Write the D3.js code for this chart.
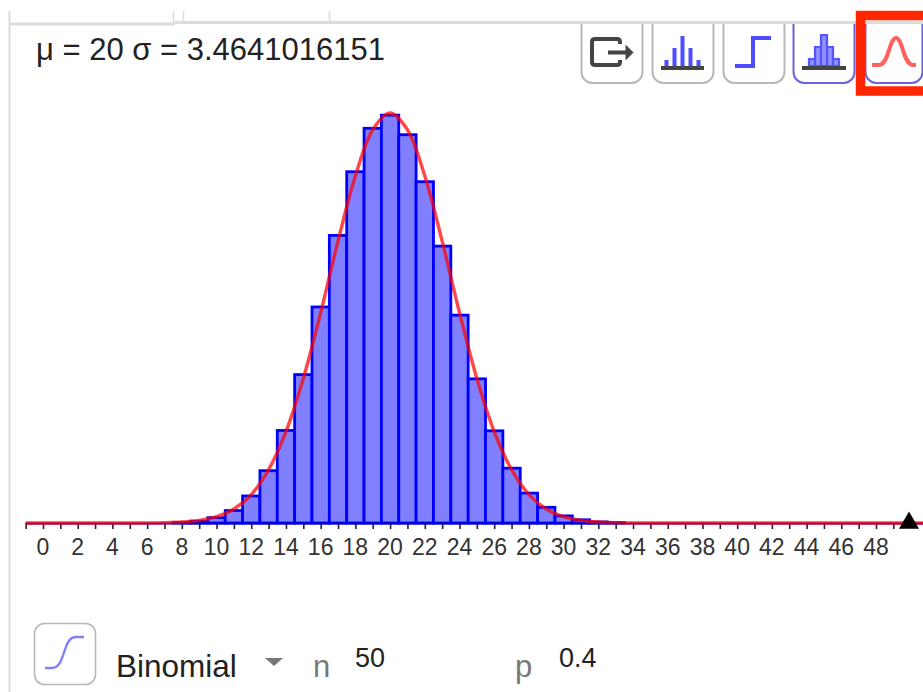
<!DOCTYPE html>
<html><head><meta charset="utf-8">
<style>html,body{margin:0;padding:0;background:#fff}svg{display:block;font-family:"Liberation Sans",Arial,sans-serif}</style>
<script src="https://cdn.jsdelivr.net/npm/d3@7"></script></head><body>
<svg id="c" width="923" height="692"></svg>
<script>
const categories=d3.range(0,50);
const barValues=[0,0,0,0,0,0,0,0,0.0001,0.0005,0.0015,0.0035,0.0076,0.0147,0.026,0.0417,0.0607,0.0808,0.0987,0.1109,0.1146,0.1091,0.0959,0.0778,0.0584,0.0405,0.0259,0.0154,0.0084,0.0044,0.002,0.0009,0.0003,0.0001,0,0,0,0,0,0,0,0,0,0,0,0,0,0,0,0];
const curveX=[-1,2,4,5,6,7,8,9,10,11,12,13,14,15,16,17,18,19,20,21,22,23,24,25,26,27,28,29,30,31,32,33,34,35,36,50,52];
const curveY=[0,0,0,0.00001,0.00003,0.0001,0.00029,0.00075,0.00178,0.00394,0.008,0.015,0.0257,0.0406,0.0591,0.0792,0.0975,0.1105,0.1152,0.1105,0.0975,0.0792,0.0591,0.0406,0.0257,0.015,0.008,0.00394,0.00178,0.00075,0.00029,0.0001,0.00003,0.00001,0,0,0];
const tickValues=d3.range(-1,50);
const labelValues=d3.range(0,50,2);
const statText="μ = 20 σ = 3.4641016151";
const distName="Binomial", nValue="50", pValue="0.4";

const svg=d3.select("#c");
const x=d3.scaleLinear().domain([0,48]).range([43,876]);
const y=d3.scaleLinear().domain([0,0.1152]).range([523,113]);
const uw=x(1)-x(0);
const grey="#dcdcdc";

// app frame
svg.append("path").attr("d","M9.5 11V692").attr("stroke",grey).attr("stroke-width",2).attr("fill","none");
svg.append("path").attr("d","M10 24H175M175 22.5H923").attr("stroke",grey).attr("stroke-width",3).attr("fill","none");
svg.append("path").attr("d","M173.5 11V22M183.5 11V21M329.5 11V21").attr("stroke",grey).attr("stroke-width",1.6).attr("fill","none");

svg.append("text").attr("x",36).attr("y",60).attr("font-size",31).attr("fill","#222").text(statText);

// bars
svg.append("g").selectAll("rect").data(categories.filter(d=>barValues[d]>0)).join("rect")
 .attr("x",d=>x(d)-uw/2).attr("width",uw).attr("y",d=>y(barValues[d])).attr("height",d=>y(0)-y(barValues[d]))
 .attr("fill","#8080ff").attr("stroke","#0000ff").attr("stroke-width",2.8);

// axis
const axis=d3.axisBottom(x).tickValues(tickValues).tickSize(6).tickFormat("");
const ga=svg.append("g").attr("transform","translate(0,523)").call(axis);
ga.select(".domain").remove();
ga.selectAll("line").attr("stroke","#222").attr("stroke-width",1.6);
svg.append("g").selectAll("text").data(labelValues).join("text").attr("x",d=>x(d)).attr("y",555)
 .attr("text-anchor","middle").attr("font-size",23).attr("fill","#333").text(d=>d);
svg.append("path").attr("d",`M${x(-1)} 523.5H923`).attr("stroke","#0000cc").attr("stroke-width",2);

// normal curve
const line=d3.line().x(d=>x(d)).y((d,i)=>y(curveY[i])).curve(d3.curveCatmullRom);
svg.append("path").attr("d",line(curveX)).attr("fill","none").attr("stroke","#ff0000").attr("stroke-opacity",0.72).attr("stroke-width",3.4);

// black triangle marker
svg.append("path").attr("d",d3.symbol(d3.symbolTriangle,175)()).attr("transform","translate(909,523)").attr("fill","#000");

// toolbar buttons
const buttonX=[581,652,723,793,865], buttonW=[61,61,61,61,57], buttonStroke=["#b8b8b8","#b8b8b8","#b8b8b8","#6a62d8","#6a62d8"];
svg.append("g").selectAll("rect").data(buttonX).join("rect")
 .attr("x",d=>d+.5).attr("y",14).attr("width",(d,i)=>buttonW[i]).attr("height",69).attr("rx",11)
 .attr("fill","#fff").attr("stroke",(d,i)=>buttonStroke[i]).attr("stroke-width",2);
svg.append("rect").attr("x",570).attr("y",0).attr("width",353).attr("height",21).attr("fill","#fff");
svg.append("path").attr("d","M570 22.5H923").attr("stroke",grey).attr("stroke-width",3);

const ic=svg.append("g");
// export icon
ic.append("path").attr("d","M620 44V42Q620 39 617 39H595Q592 39 592 42V62Q592 65 595 65H617Q620 65 620 62V60M608 52.5H628")
 .attr("fill","none").attr("stroke","#444").attr("stroke-width",4);
ic.append("path").attr("d","M626 45.5L633 52.5L626 59.5Z").attr("fill","#444").attr("stroke","#444");
// sticks icon
ic.append("path").attr("d","M661 68H704").attr("stroke","#444").attr("stroke-width",4);
ic.append("path").attr("d","M666.5 66V60M674.5 66V48M682.5 66V36M690.5 66V48M698.5 66V60").attr("stroke","#4d4dff").attr("stroke-width",4).attr("fill","none");
// step icon
ic.append("path").attr("d","M735 66H753V38H771").attr("fill","none").attr("stroke","#4d4dff").attr("stroke-width",4);
// bars icon
ic.append("path").attr("d","M809 66V59H815V47H821V35H827V47H833V59H839V66ZM815 66V47M821 66V35M827 66V47M833 66V59")
 .attr("fill","#8f8fff").attr("stroke","#5555ff").attr("stroke-width",2.2);
ic.append("path").attr("d","M802 68H846").attr("stroke","#444").attr("stroke-width",4);
// curve icon
ic.append("path").attr("d","M872 65H879C889 65 889 38 896 38C903 38 903 65 913 65H916").attr("fill","none").attr("stroke","#ff6060").attr("stroke-width",4);
// red selection
svg.append("path").attr("d","M923 15.5H860.5V91H923").attr("fill","none").attr("stroke","#ff2600").attr("stroke-width",9.5);

// bottom controls
svg.append("rect").attr("x",34.5).attr("y",623.5).attr("width",61).attr("height",61).attr("rx",10).attr("fill","#fff").attr("stroke","#b8b8b8").attr("stroke-width",1.6);
svg.append("path").attr("d","M45 668H52C66 668 62 637 76 637H84").attr("fill","none").attr("stroke","#8080ff").attr("stroke-width",2.4);
svg.append("text").attr("x",116).attr("y",677).attr("font-size",31.5).attr("fill","#222").text(distName);
svg.append("path").attr("d","M265 658H283L274 666Z").attr("fill","#777");
svg.append("text").attr("x",313).attr("y",677).attr("font-size",31).attr("fill","#777").text("n");
svg.append("text").attr("x",355).attr("y",667).attr("font-size",27).attr("fill","#222").text(nValue);
svg.append("text").attr("x",515).attr("y",677).attr("font-size",31).attr("fill","#777").text("p");
svg.append("text").attr("x",559).attr("y",667).attr("font-size",27).attr("fill","#222").text(pValue);
</script></body></html>
